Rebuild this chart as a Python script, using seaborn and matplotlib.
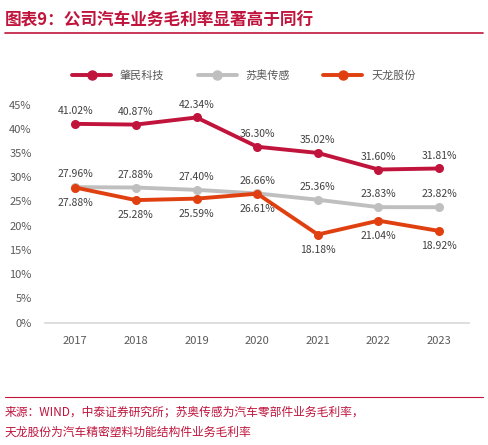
import matplotlib
matplotlib.use("Agg")
import matplotlib.pyplot as plt
import seaborn as sns
import pandas as pd

years = ["2017", "2018", "2019", "2020", "2021", "2022", "2023"]
zhaomin = [41.02, 40.87, 42.34, 36.30, 35.02, 31.60, 31.81]
suao = [27.96, 27.88, 27.40, 26.66, 25.36, 23.83, 23.82]
tianlong = [27.88, 25.28, 25.59, 26.61, 18.18, 21.04, 18.92]
names = ["肇民科技", "苏奥传感", "天龙股份"]
colors = ["#C0143C", "#BFBFBF", "#E0400F"]

sns.set_theme(style="white")
plt.rcParams['font.family'] = ['Noto Sans CJK SC', 'DejaVu Sans']

df = pd.DataFrame({"year": years * 3,
                   "value": zhaomin + suao + tianlong,
                   "series": [n for n in names for _ in years]})

fig = plt.figure(figsize=(4.88, 4.45), dpi=100)
ax = fig.add_axes([0.092, 0.275, 0.87, 0.49])
sns.lineplot(data=df, x="year", y="value", hue="series", palette=colors,
             marker="o", markersize=6.5, linewidth=2.8, markeredgewidth=0,
             sort=False, ax=ax, legend=False)
ax.set_ylim(0, 45)
ax.set_yticks(range(0, 46, 5))
ax.set_yticklabels([f"{v}%" for v in range(0, 46, 5)], fontsize=8, color="#595959")
ax.tick_params(axis="x", labelsize=8, colors="#595959")
ax.set_xlabel(""); ax.set_ylabel("")
ax.set_xlim(-0.5, 6.5)
for s in ["top", "right", "left"]:
    ax.spines[s].set_visible(False)
ax.spines["bottom"].set_color("#D9D9D9")

for i, v in enumerate(zhaomin):
    ax.annotate(f"{v:.2f}%", (i, v), xytext=(0, 7), textcoords="offset points",
                ha="center", fontsize=7.5, color="#404040")
for i, v in enumerate(suao):
    ax.annotate(f"{v:.2f}%", (i, v), xytext=(0, 7), textcoords="offset points",
                ha="center", fontsize=7.5, color="#404040")
for i, v in enumerate(tianlong):
    ax.annotate(f"{v:.2f}%", (i, v), xytext=(0, -13), textcoords="offset points",
                ha="center", fontsize=7.5, color="#404040")

from matplotlib.lines import Line2D
handles = [Line2D([0], [0], color=c, lw=2.8, marker="o", markersize=6.5) for c in colors]
fig.legend(handles, names, loc="center", bbox_to_anchor=(0.5, 0.83), ncol=3,
           frameon=False, fontsize=8, handlelength=3.5, columnspacing=3,
           labelcolor="#595959")

fig.text(0.01, 0.955, "图表9：公司汽车业务毛利率显著高于同行", fontsize=12,
         color="#C0143C", fontweight="bold", style="italic", va="center")
fig.add_artist(Line2D([0.01, 0.99], [0.925, 0.925], color="#C0143C", lw=1.2))
fig.add_artist(Line2D([0.01, 0.99], [0.108, 0.108], color="#C0143C", lw=0.8))
fig.text(0.01, 0.074, "来源：WIND，中泰证券研究所；苏奥传感为汽车零部件业务毛利率，", fontsize=8.5,
         color="#C0143C", va="center")
fig.text(0.01, 0.028, "天龙股份为汽车精密塑料功能结构件业务毛利率", fontsize=8.5,
         color="#C0143C", va="center")

fig.savefig("out.png", dpi=100)
